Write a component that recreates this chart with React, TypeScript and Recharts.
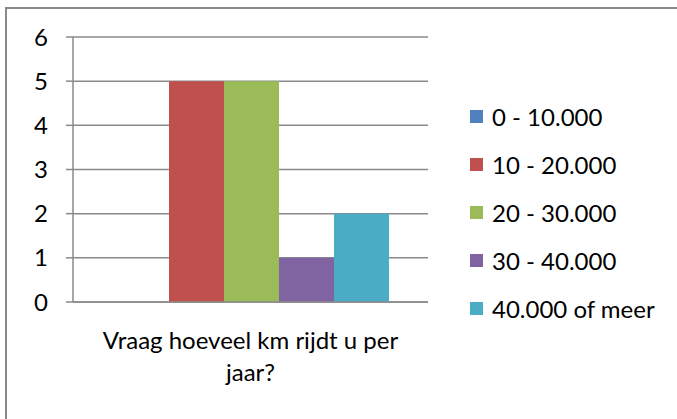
import { Bar, BarChart, CartesianGrid, Legend, XAxis, YAxis } from 'recharts';

const categories = ['Vraag hoeveel km rijdt u per jaar?'];
const seriesNames = ['0 - 10.000', '10 - 20.000', '20 - 30.000', '30 - 40.000', '40.000 of meer'];
const seriesValues = [0, 5, 5, 1, 2];
const seriesColors = ['#4F81BD', '#C0504D', '#9BBB59', '#8064A2', '#4BACC6'];
const yTicks = [0, 1, 2, 3, 4, 5, 6];

const FONT = 'Lato, "Open Sans", sans-serif';
const FONT_SIZE = 24;
const AXIS = '#8a8a8a';

const data = categories.map((label) => {
  const row: Record<string, string | number> = { label };
  seriesValues.forEach((v, i) => {
    row[`s${i}`] = v;
  });
  return row;
});

// greedy word wrap, measured with a canvas so it follows the real font
function wrapText(text: string, maxWidth: number): string[] {
  const ctx = document.createElement('canvas').getContext('2d');
  if (!ctx) return [text];
  ctx.font = `${FONT_SIZE}px ${FONT}`;
  const lines: string[] = [];
  let line = '';
  for (const word of text.split(' ')) {
    const next = line ? `${line} ${word}` : word;
    if (line && ctx.measureText(next).width > maxWidth) {
      lines.push(line);
      line = word;
    } else {
      line = next;
    }
  }
  if (line) lines.push(line);
  return lines;
}

function CategoryTick({ x, y, payload }: any) {
  const lines = wrapText(String(payload.value), 320);
  return (
    <text x={x} y={y + 39} textAnchor="middle" fill="#000" fontSize={FONT_SIZE} fontFamily={FONT}>
      {lines.map((l, i) => (
        <tspan key={i} x={x} dy={i === 0 ? 0 : 32}>
          {l}
        </tspan>
      ))}
    </text>
  );
}

function LegendList({ payload }: any) {
  return (
    <ul style={{ listStyle: 'none', margin: 0, padding: '5px 0 0 42px', width: 200, fontFamily: FONT, fontSize: FONT_SIZE }}>
      {(payload || []).map((entry: any) => (
        <li key={entry.value} style={{ display: 'flex', alignItems: 'center', height: 48, whiteSpace: 'nowrap' }}>
          <span style={{ display: 'inline-block', width: 13, height: 13, background: entry.color, marginRight: 9 }} />
          {entry.value}
        </li>
      ))}
    </ul>
  );
}

export default function App() {
  return (
    <div style={{ position: 'absolute', left: 0, top: 0, width: 677, height: 419, overflow: 'hidden', background: '#fff' }}>
      <div
        style={{
          position: 'absolute',
          left: 5,
          top: 7,
          right: 0,
          bottom: 0,
          borderTop: `2px solid ${AXIS}`,
          borderLeft: `2px solid ${AXIS}`,
        }}
      />
      <BarChart
        width={677}
        height={419}
        data={data}
        margin={{ top: 37, right: 7, bottom: 17, left: 33 }}
        barCategoryGap={41}
        barGap={0}
        style={{ fontFamily: FONT }}
      >
        <CartesianGrid vertical={false} stroke={AXIS} strokeWidth={1.5} />
        <XAxis
          xAxisId="edge"
          type="number"
          domain={[0, 1]}
          ticks={[0, 1]}
          tick={false}
          tickSize={8}
          axisLine={false}
          tickLine={{ stroke: AXIS, strokeWidth: 1.5 }}
          height={0}
        />
        <XAxis
          dataKey="label"
          height={100}
          tickLine={false}
          axisLine={{ stroke: AXIS, strokeWidth: 1.5 }}
          tick={<CategoryTick />}
          interval={0}
        />
        <YAxis
          domain={[0, 6]}
          ticks={yTicks}
          width={40}
          tickSize={7}
          tickMargin={18}
          axisLine={{ stroke: AXIS, strokeWidth: 1.5 }}
          tickLine={{ stroke: AXIS, strokeWidth: 1.5 }}
          tick={{ fill: '#000', fontSize: FONT_SIZE, fontFamily: FONT }}
        />
        <Legend layout="vertical" align="right" verticalAlign="middle" content={<LegendList />} />
        {seriesNames.map((name, i) => (
          <Bar key={name} dataKey={`s${i}`} name={name} fill={seriesColors[i]} isAnimationActive={false} />
        ))}
      </BarChart>
    </div>
  );
}
